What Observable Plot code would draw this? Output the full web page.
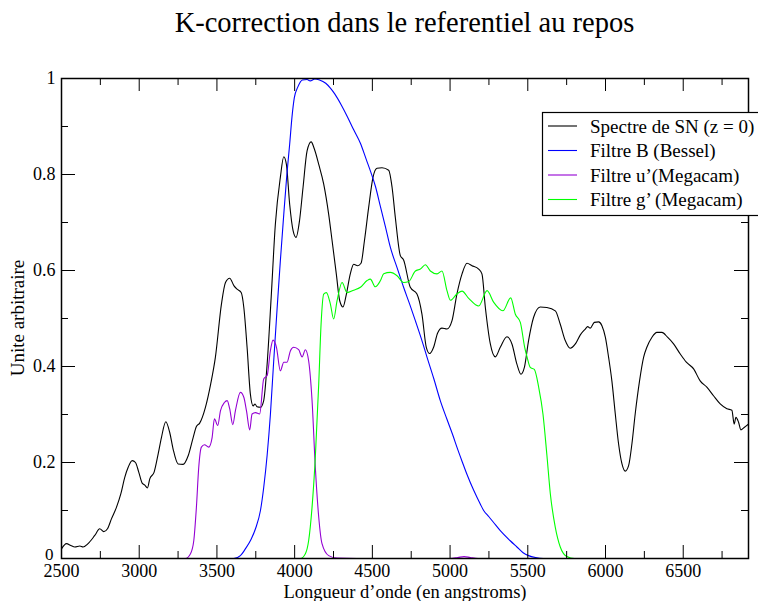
<!DOCTYPE html>
<html><head><meta charset="utf-8">
<script src="https://cdn.jsdelivr.net/npm/d3@7"></script>
<script src="https://cdn.jsdelivr.net/npm/@observablehq/plot@0.6"></script>
<style>
body{margin:0;background:#fff;}
#title{height:60px;box-sizing:border-box;padding-top:7px;margin-left:61px;width:687px;text-align:center;font-family:"Liberation Serif","Times New Roman",serif;font-size:28.5px;line-height:31px;color:#000;}
#chart svg{display:block;}
</style></head><body>
<div id="title"></div>
<div id="chart"></div>
<script>
const titleText = "K-correction dans le referentiel au repos";
const xLabel = "Longueur d’onde (en angstroms)";
const yLabel = "Unite arbitraire";
const seriesNames = ["Spectre de SN (z = 0)", "Filtre B (Bessel)", "Filtre u’(Megacam)", "Filtre g’ (Megacam)"];
const seriesColors = ["#000000", "#0000ff", "#9400d3", "#00ff00"];

const xMajorTicks = [2500, 3000, 3500, 4000, 4500, 5000, 5500, 6000, 6500];
const xMinorTicks = [2750, 3250, 3750, 4250, 4750, 5250, 5750, 6250, 6750];
const yMajorTicks = [0, 0.2, 0.4, 0.6, 0.8, 1];
const yMinorTicks = [0.1, 0.3, 0.5, 0.7, 0.9];

// Spectre de SN (z = 0)
const snWave = [2500,2532,2560,2586,2618,2639,2671,2714,2746,2772,2796,2822,2854,2882,2907,2929,2955,2976,2997,3019,3036,3053,3068,3096,3122,3143,3171,3196,3218,3250,3282,3315,3347,3368,3389,3426,3460,3490,3529,3555,3582,3610,3630,3656,3673,3694,3715,3733,3745,3758,3780,3801,3823,3849,3876,3908,3930,3947,3968,3990,4009,4031,4054,4080,4106,4127,4155,4187,4219,4241,4268,4290,4311,4333,4358,4380,4405,4427,4449,4476,4504,4530,4562,4605,4627,4648,4680,4701,4744,4787,4819,4847,4869,4894,4920,4948,4980,5012,5044,5077,5109,5141,5184,5205,5227,5259,5291,5323,5366,5398,5430,5456,5478,5505,5537,5580,5623,5677,5709,5741,5773,5806,5838,5870,5885,5902,5928,5956,5977,5999,6020,6041,6063,6084,6106,6127,6149,6170,6191,6219,6245,6266,6299,6331,6363,6399,6438,6481,6520,6567,6609,6652,6695,6738,6781,6813,6828,6839,6856,6871,6892,6920];
const snFlux = [0.020,0.031,0.027,0.024,0.026,0.024,0.031,0.048,0.062,0.056,0.062,0.083,0.107,0.135,0.169,0.190,0.204,0.200,0.180,0.157,0.153,0.147,0.166,0.180,0.218,0.252,0.285,0.263,0.228,0.197,0.196,0.214,0.252,0.275,0.282,0.315,0.364,0.419,0.530,0.575,0.584,0.568,0.561,0.554,0.523,0.440,0.343,0.318,0.322,0.316,0.315,0.329,0.405,0.544,0.697,0.794,0.837,0.821,0.738,0.683,0.669,0.703,0.773,0.849,0.868,0.853,0.821,0.780,0.717,0.662,0.593,0.537,0.524,0.551,0.593,0.613,0.610,0.615,0.662,0.731,0.794,0.813,0.814,0.809,0.773,0.710,0.631,0.622,0.565,0.551,0.509,0.440,0.427,0.440,0.470,0.480,0.478,0.495,0.551,0.593,0.615,0.610,0.603,0.593,0.523,0.447,0.420,0.440,0.462,0.447,0.405,0.384,0.398,0.454,0.502,0.524,0.523,0.516,0.488,0.454,0.438,0.447,0.466,0.478,0.483,0.480,0.492,0.493,0.485,0.461,0.419,0.370,0.301,0.239,0.197,0.182,0.194,0.239,0.301,0.370,0.419,0.440,0.461,0.471,0.471,0.461,0.447,0.426,0.409,0.395,0.370,0.357,0.339,0.322,0.312,0.309,0.280,0.294,0.284,0.268,0.273,0.280];

// Filtre B (Bessel)
const bWave = [3550,3608,3651,3683,3720,3748,3780,3801,3823,3844,3865,3887,3908,3930,3950,3968,3983,3998,4020,4050,4080,4100,4130,4160,4200,4230,4260,4300,4340,4380,4423,4460,4490,4520,4552,4585,4616,4660,4701,4740,4777,4815,4852,4895,4937,4980,5023,5044,5080,5109,5152,5195,5216,5250,5280,5323,5387,5430,5470,5505,5550,5600,5700];
const bTrans = [0,0,0.006,0.020,0.040,0.062,0.100,0.148,0.215,0.300,0.410,0.520,0.620,0.717,0.800,0.863,0.920,0.960,0.982,0.997,0.998,0.995,0.999,0.997,0.990,0.980,0.967,0.945,0.920,0.893,0.865,0.832,0.805,0.775,0.733,0.690,0.648,0.605,0.565,0.530,0.495,0.458,0.419,0.375,0.329,0.290,0.252,0.232,0.200,0.175,0.142,0.113,0.100,0.087,0.075,0.058,0.037,0.024,0.012,0.006,0.002,0,0];

// Filtre u' (Megacam)
const uWave = [3200,3297,3330,3351,3368,3383,3400,3420,3447,3469,3484,3505,3523,3548,3566,3582,3602,3619,3651,3673,3690,3711,3726,3748,3775,3801,3823,3844,3861,3883,3908,3930,3951,3973,3994,4026,4048,4069,4090,4112,4133,4155,4176,4219,4273,4400,5000,5050,5090,5130,5180,5400];
const uTrans = [0,0,0.010,0.037,0.107,0.190,0.232,0.237,0.232,0.252,0.291,0.277,0.308,0.325,0.329,0.312,0.279,0.308,0.346,0.336,0.308,0.268,0.301,0.304,0.301,0.374,0.381,0.433,0.455,0.440,0.391,0.409,0.409,0.433,0.440,0.435,0.420,0.435,0.412,0.329,0.190,0.086,0.031,0.006,0.001,0,0,0.002,0.004,0.002,0,0];

// Filtre g' (Megacam)
const gWave = [3900,4037,4069,4090,4112,4133,4155,4170,4187,4204,4230,4251,4273,4305,4337,4380,4423,4466,4487,4519,4552,4573,4616,4659,4701,4734,4777,4809,4841,4873,4916,4948,4980,5002,5044,5077,5120,5184,5238,5280,5340,5390,5420,5452,5480,5495,5516,5542,5570,5598,5623,5645,5677,5709,5752,5800,6000];
const gTrans = [0,0,0.010,0.037,0.107,0.211,0.364,0.488,0.551,0.554,0.530,0.499,0.537,0.575,0.554,0.559,0.565,0.579,0.582,0.566,0.579,0.593,0.596,0.589,0.575,0.577,0.599,0.603,0.612,0.599,0.593,0.599,0.558,0.538,0.551,0.557,0.542,0.526,0.558,0.534,0.516,0.543,0.509,0.492,0.440,0.420,0.398,0.394,0.357,0.300,0.215,0.135,0.065,0.024,0.004,0,0];

const toRows = (w, v) => w.map((x, i) => ({w: x, v: v[i]}));
const series = [toRows(snWave, snFlux), toRows(bWave, bTrans), toRows(uWave, uTrans), toRows(gWave, gTrans)];

document.getElementById("title").textContent = titleText;

const fontFamily = '"Liberation Serif","Times New Roman",serif';
const W = 758, H = 541;
const mT = 18, mB = 43, mL = 61, mR = 10;
const fw = W - mL - mR, fh = H - mT - mB;

const plot = Plot.plot({
  width: W, height: H,
  marginTop: mT, marginBottom: mB, marginLeft: mL, marginRight: mR,
  style: {fontFamily, fontSize: "18px", background: "white", color: "black"},
  x: {domain: [2500, 6920]},
  y: {domain: [0, 1]},
  marks: [
    ...series.map((d, i) => Plot.line(d, {x: "w", y: "v", stroke: seriesColors[i], strokeWidth: 1.1, curve: "monotone-x", clip: true})),
    Plot.tickX(xMajorTicks, {x: d => d, insetTop: fh - 13, stroke: "black", strokeWidth: 1}),
    Plot.tickX(xMajorTicks, {x: d => d, insetBottom: fh - 13, stroke: "black", strokeWidth: 1}),
    Plot.tickX(xMinorTicks, {x: d => d, insetTop: fh - 7, stroke: "black", strokeWidth: 1}),
    Plot.tickX(xMinorTicks, {x: d => d, insetBottom: fh - 7, stroke: "black", strokeWidth: 1}),
    Plot.tickY(yMajorTicks, {y: d => d, insetRight: fw - 14, stroke: "black", strokeWidth: 1}),
    Plot.tickY(yMajorTicks, {y: d => d, insetLeft: fw - 14, stroke: "black", strokeWidth: 1}),
    Plot.tickY(yMinorTicks, {y: d => d, insetRight: fw - 7, stroke: "black", strokeWidth: 1}),
    Plot.tickY(yMinorTicks, {y: d => d, insetLeft: fw - 7, stroke: "black", strokeWidth: 1}),
    Plot.axisX(xMajorTicks, {tickSize: 0, tickPadding: 6, tickFormat: d => String(d), label: null, fontSize: 18}),
    Plot.axisY(yMajorTicks.filter(d => d > 0), {tickSize: 0, tickPadding: 6, tickFormat: d => String(d), label: null, fontSize: 18}),
    Plot.axisY([0], {tickSize: 0, tickPadding: 8, tickFormat: d => String(d), label: null, fontSize: 17, dy: -4}),
    Plot.text([xLabel], {frameAnchor: "bottom", dy: 33.5, text: d => d, fontSize: 18.5, lineAnchor: "middle"}),
    Plot.frame({stroke: "black", strokeWidth: 1.5})
  ]
});
document.getElementById("chart").appendChild(plot);

const svg = d3.select(plot);
// y axis title
svg.append("text")
  .attr("transform", `translate(${mL - 43},${mT + fh / 2}) rotate(-90)`)
  .attr("text-anchor", "middle").attr("dy", "0.32em")
  .attr("font-family", fontFamily).attr("font-size", 19).attr("fill", "black")
  .text(yLabel);

// legend
const lg = svg.append("g");
lg.append("rect").attr("x", 542.5).attr("y", 52.5).attr("width", 240).attr("height", 103)
  .attr("fill", "white").attr("stroke", "black").attr("stroke-width", 1.2);
seriesNames.forEach((name, i) => {
  const y = 66 + i * 24.5;
  lg.append("line").attr("x1", 548).attr("x2", 577).attr("y1", y).attr("y2", y)
    .attr("stroke", seriesColors[i]).attr("stroke-width", 1.1);
  lg.append("text").attr("x", 590).attr("y", y).attr("dy", "0.35em")
    .attr("text-anchor", "start")
    .attr("font-family", fontFamily).attr("font-size", 19).attr("fill", "black").text(name);
});
</script>
</body></html>
